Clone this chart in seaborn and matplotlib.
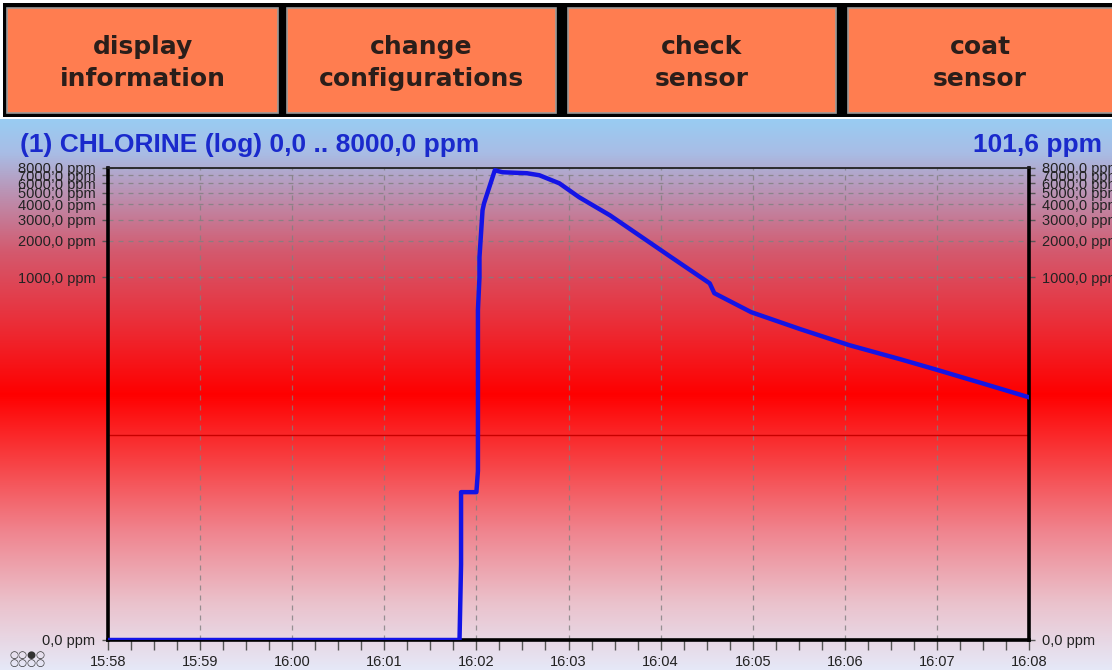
import numpy as np
import pandas as pd
import seaborn as sns
import matplotlib.pyplot as plt
from matplotlib.colors import LinearSegmentedColormap
from matplotlib.patches import Rectangle
from matplotlib.ticker import FixedLocator, MultipleLocator, NullLocator

# sensor readings (clock time, ppm)
clock = ['15:58:00', '16:01:49', '16:01:50', '16:01:50', '16:02:00', '16:02:01',
         '16:02:01', '16:02:02', '16:02:02', '16:02:04', '16:02:05', '16:02:12',
         '16:02:17', '16:02:33', '16:02:41', '16:02:54', '16:03:07', '16:03:27',
         '16:04:06', '16:04:32', '16:04:35', '16:04:59', '16:05:31', '16:06:03',
         '16:06:36', '16:07:01', '16:07:31', '16:08:00']
ppm = [0.0, 0.0, 4.2, 16.7, 16.7, 25.0,
       534.0, 1000.0, 1460.0, 3580.0, 4090.0, 7660.0,
       7380.0, 7240.0, 6970.0, 5980.0, 4580.0, 3250.0,
       1490.0, 890.0, 738.0, 514.0, 372.0, 274.0,
       210.0, 170.0, 131.0, 101.6]

start = '15:58:00'
x_labels = ['15:58', '15:59', '16:00', '16:01', '16:02', '16:03',
            '16:04', '16:05', '16:06', '16:07', '16:08']
y_ticks = [1, 1000, 2000, 3000, 4000, 5000, 6000, 7000, 8000]
y_labels = ['0,0 ppm', '1000,0 ppm', '2000,0 ppm', '3000,0 ppm', '4000,0 ppm',
            '5000,0 ppm', '6000,0 ppm', '7000,0 ppm', '8000,0 ppm']
alarm = 50.0
buttons = ['display\ninformation', 'change\nconfigurations', 'check\nsensor', 'coat\nsensor']
title = '(1) CHLORINE (log) 0,0 .. 8000,0 ppm'
current = '101,6 ppm'

t = pd.to_datetime(clock, format='%H:%M:%S')
t0 = pd.to_datetime(start, format='%H:%M:%S')
df = pd.DataFrame({'minutes': (t - t0).total_seconds() / 60.0,
                   'ppm': np.maximum(ppm, 1.0)})

W, H = 1112, 670
fig = plt.figure(figsize=(W / 100, H / 100), dpi=100)
fig.patch.set_facecolor('white')

# background layer in pixel coordinates
bg = fig.add_axes([0, 0, 1, 1])
bg.set_xlim(0, W)
bg.set_ylim(H, 0)
bg.axis('off')

grad = LinearSegmentedColormap.from_list('panel', [
    (0.00, (0.60, 0.80, 0.95)),
    (0.06, (0.66, 0.74, 0.90)),
    (0.13, (0.73, 0.58, 0.71)),
    (0.24, (0.83, 0.35, 0.43)),
    (0.37, (0.92, 0.18, 0.22)),
    (0.50, (1.00, 0.00, 0.00)),
    (0.62, (0.97, 0.25, 0.26)),
    (0.75, (0.94, 0.52, 0.56)),
    (0.88, (0.92, 0.76, 0.80)),
    (1.00, (0.90, 0.91, 0.97)),
])
bg.imshow(np.linspace(0, 1, 256).reshape(-1, 1), cmap=grad, aspect='auto',
          extent=(0, W, H, 119), zorder=0)

bg.add_patch(Rectangle((3, 3), W, 114, facecolor='black', edgecolor='none', zorder=1))
for i, (x0, x1) in enumerate([(7, 278), (287, 556), (568, 836), (848, 1116)]):
    bg.add_patch(Rectangle((x0, 8), x1 - x0, 105, facecolor='#ff7d50',
                           edgecolor='#9a9a9a', lw=1.2, zorder=2))
    bg.text((x0 + min(x1, W)) / 2, 63, buttons[i], ha='center', va='center',
            fontsize=18, fontweight='bold', family='DejaVu Sans', color='#2a1e1a',
            linespacing=1.4, zorder=3)

bg.text(20, 152, title, ha='left', va='baseline', fontsize=19, fontweight='bold',
        family='Liberation Sans', color='#1a2acc', zorder=3)
bg.text(1102, 152, current, ha='right', va='baseline', fontsize=19, fontweight='bold',
        family='Liberation Sans', color='#1a2acc', zorder=3)
bg.text(9, 659, '○○●○\n○○○○', ha='left', va='center', fontsize=7.5,
        family='DejaVu Sans', color='#333333', linespacing=0.8, zorder=3)

# chart axes
ax = fig.add_axes([108 / W, (H - 640) / H, (1029 - 108) / W, (640 - 168) / H])
ax.set_facecolor('none')

sns.lineplot(data=df, x='minutes', y='ppm', estimator=None, sort=False,
             color='#1414e6', linewidth=3.2, ax=ax, zorder=5)
ax.axhline(alarm, color='#c80000', lw=1, zorder=2)

ax.set_yscale('log')
ax.set_xlim(0, len(x_labels) - 1)
ax.set_ylim(y_ticks[0], y_ticks[-1])
ax.yaxis.set_major_locator(FixedLocator(y_ticks))
ax.yaxis.set_minor_locator(NullLocator())
ax.set_yticklabels(y_labels)
ax.xaxis.set_minor_locator(MultipleLocator(0.25))
ax.set_xticks(range(len(x_labels)))
ax.set_xticklabels(x_labels)
ax.set_xlabel('')
ax.set_ylabel('')

ax.tick_params(axis='y', which='both', left=True, right=True, labelleft=True,
               labelright=True, length=4, width=1, color='#555555', pad=5,
               labelsize=10.5, labelcolor='#222222')
ax.tick_params(axis='x', which='both', length=7, width=1, color='#555555',
               pad=4, labelsize=10.5, labelcolor='#222222')
for tk in ax.yaxis.get_major_ticks() + ax.xaxis.get_major_ticks():
    tk.label1.set_family('Liberation Sans')
    tk.label2.set_family('Liberation Sans')

ax.grid(True, which='major', axis='both', color='#808080', lw=0.9,
        linestyle=(0, (4, 4)), alpha=0.8)
ax.set_axisbelow(True)

for side in ['left', 'bottom', 'right']:
    ax.spines[side].set_linewidth(2.6)
    ax.spines[side].set_color('black')
ax.spines['top'].set_linewidth(1.3)
ax.spines['top'].set_color('#222222')

fig.savefig('out.png', dpi=100, facecolor=fig.get_facecolor())
